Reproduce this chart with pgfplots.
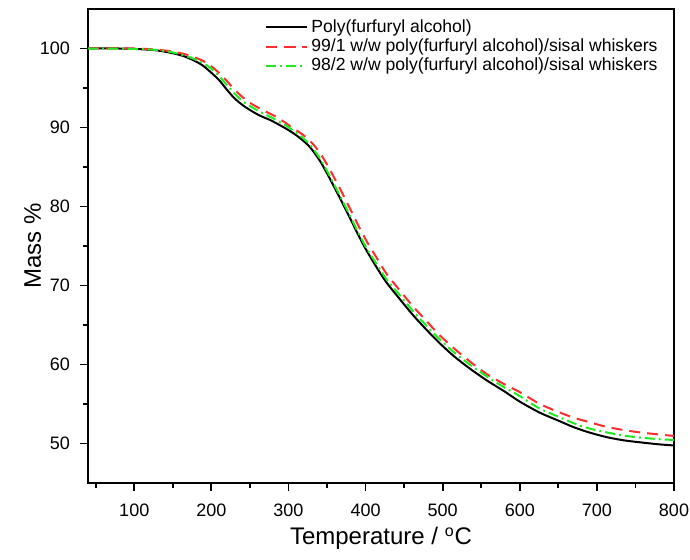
\documentclass[border=0pt]{standalone}
\usepackage{fontspec}
\setmainfont{Liberation Sans}
\usepackage{pgfplots}
\pgfplotsset{compat=1.18}

\definecolor{tgred}{RGB}{255,45,45}
\definecolor{tggreen}{RGB}{30,235,30}

\pgfplotstableread{
T m
40 100.0
80 100.0
110 99.9
130 99.75
150 99.4
165 99.0
177 98.5
188 97.9
198 97.1
210 96.0
220 94.8
230 93.7
241 92.8
252 92.1
263 91.5
275 91.0
285 90.5
296 89.9
306 89.3
317 88.5
328 87.5
340 85.9
350 84.2
365 81.4
380 78.5
390 76.5
402 74.3
415 72.2
427 70.4
445 68.2
462 66.2
479 64.4
495 62.8
514 61.1
535 59.5
557 58.0
580 56.6
600 55.3
626 53.9
650 52.9
669 52.1
690 51.4
713 50.8
735 50.4
756 50.15
780 49.9
800 49.75
}\pfa

\pgfplotstableread{
T m
40 100.0
100 100.0
130 99.85
150 99.6
165 99.3
177 98.9
188 98.5
198 97.9
210 96.9
220 95.9
230 94.8
241 93.8
252 93.0
263 92.4
275 91.8
285 91.3
296 90.6
306 89.9
317 89.2
328 88.3
340 86.9
350 85.3
365 82.6
380 79.7
390 77.7
402 75.5
415 73.4
427 71.5
445 69.3
462 67.3
479 65.5
495 63.8
514 62.1
535 60.4
557 58.8
580 57.5
600 56.5
626 55.0
650 54.0
669 53.3
690 52.7
713 52.1
735 51.7
756 51.4
780 51.15
800 50.95
}\wone

\pgfplotstableread{
T m
40 100.0
100 99.95
130 99.8
150 99.5
165 99.1
177 98.7
188 98.2
198 97.6
210 96.5
220 95.4
230 94.3
241 93.3
252 92.6
263 92.0
275 91.4
285 90.9
296 90.3
306 89.6
317 88.8
328 87.8
340 86.2
350 84.5
365 81.7
380 78.8
390 76.8
402 74.6
415 72.6
427 70.8
445 68.7
462 66.7
479 64.9
495 63.3
514 61.6
535 60.0
557 58.5
580 57.1
600 56.0
626 54.4
650 53.4
669 52.6
690 51.9
713 51.4
735 51.0
756 50.75
780 50.55
800 50.45
}\wtwo

\begin{document}
\begin{tikzpicture}
\begin{axis}[
    name=ax,
    scale only axis,
    width=293pt, height=237pt,
    xmin=40, xmax=800,
    ymin=45, ymax=105,
    xtick={100,200,...,800},
    ytick={50,60,...,100},
    minor xtick={50,150,...,750},
    minor ytick={55,65,...,95},
    xtick pos=bottom, ytick pos=left,
    tick align=outside,
    major tick length=4pt,
    minor tick length=2.5pt,
    every tick/.style={black, line width=0.9pt},
    axis line style={line width=1pt},
    /pgf/number format/assume math mode=true,
    /pgf/number format/1000 sep={},
    tick label style={font=\fontsize{9}{10}\selectfont},
    x tick label style={yshift=-3pt},
    y tick label style={xshift=-1.5pt},
    label style={font=\fontsize{12}{14}\selectfont},
    xlabel={Temperature / \textsuperscript{o}C},
    ylabel={Mass \%},
    xlabel style={yshift=1.5pt},
    ylabel style={yshift=-7.5pt},
    legend style={draw=none, fill=none,
        at={(axis description cs:1,1)}, anchor=north east,
        xshift=-3pt, yshift=-1pt,
        font=\fontsize{8.8}{9}\selectfont,
        row sep=-2.2pt,
        cells={anchor=west}},
    legend image code/.code={
        \draw[#1] plot coordinates {(0pt,0pt) (10pt,0pt) (20pt,0pt)};},
]
\addplot[black, line width=1pt, smooth] table[x=T, y=m] {\pfa};
\addlegendentry{Poly(furfuryl alcohol)}
\addplot[tgred, line width=1pt, smooth, dash pattern=on 5.5pt off 3.5pt] table[x=T, y=m] {\wone};
\addlegendentry{99/1 w/w poly(furfuryl alcohol)/sisal whiskers}
\addplot[tggreen, line width=1pt, smooth, dash pattern=on 5pt off 2pt on 1pt off 2pt] table[x=T, y=m] {\wtwo};
\addlegendentry{98/2 w/w poly(furfuryl alcohol)/sisal whiskers}
\end{axis}
\pgfresetboundingbox
\path ([xshift=-44pt,yshift=-38pt]ax.south west) rectangle ([xshift=8pt,yshift=4.5pt]ax.north east);
\end{tikzpicture}
\end{document}
